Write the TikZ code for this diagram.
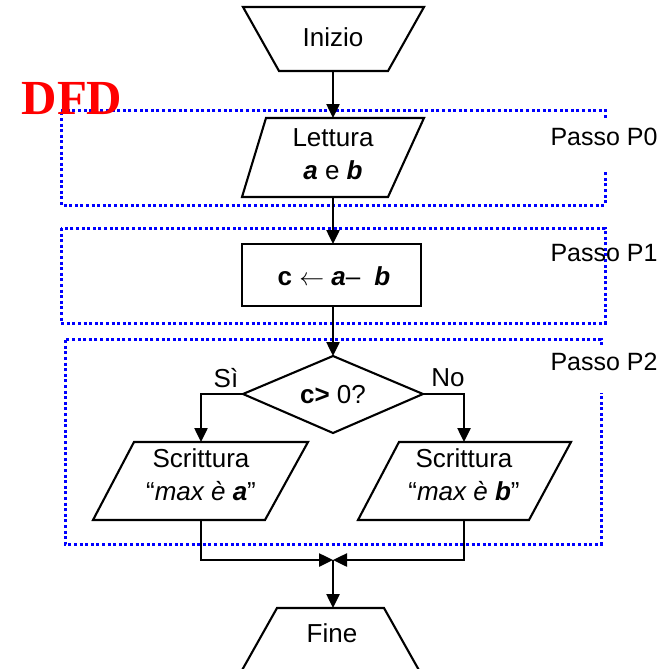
\documentclass[tikz,border=0pt]{standalone}
\usepackage{fontspec}
\setmainfont{Liberation Sans}
\newfontfamily\dfdfont{Liberation Serif}
\usetikzlibrary{arrows.meta}
\definecolor{boxblue}{RGB}{0,0,255}
\definecolor{dfdred}{RGB}{255,0,0}
\tikzset{
  shapeline/.style={draw=black, line width=2.1pt, line join=miter},
  arr/.style={draw=black, line width=2.5pt, -{Triangle[length=14pt,width=13pt]}},
  stepframe/.style={draw=boxblue, line width=3pt, dash pattern=on 3pt off 2.6pt},
  txt/.style={font=\fontsize{26}{33}\selectfont, align=center, inner sep=0pt},
  passo/.style={font=\fontsize{25}{28}\selectfont, inner sep=0pt},
}
\begin{document}
\begin{tikzpicture}[x=1pt,y=-1pt]
\useasboundingbox (0,0) rectangle (669,669);

% step frames
\draw[stepframe] (605,118) -- (605,110) -- (61,110) -- (61,205) -- (605,205) -- (605,170);
\draw[stepframe] (61,228) rectangle (605,323);
\draw[stepframe] (601,345) -- (601,339) -- (65,339) -- (65,544) -- (601,544) -- (601,393);

% anchor coordinates
\coordinate (inizioB) at (333,71);
\coordinate (letturaT) at (333,118);
\coordinate (letturaB) at (333,197);
\coordinate (calcT) at (333,244);
\coordinate (calcB) at (333,306);
\coordinate (diaT) at (333,356);
\coordinate (diaL) at (243,394);
\coordinate (diaR) at (423,394);
\coordinate (scrAT) at (201,442);
\coordinate (scrAB) at (201,520);
\coordinate (scrBT) at (464,442);
\coordinate (scrBB) at (464,520);
\coordinate (join) at (333,560);
\coordinate (fineT) at (333,608);

% shapes
\draw[shapeline] (243,7) -- (424,7) -- (388,71) -- (279,71) -- cycle;
\draw[shapeline] (266,118) -- (424,118) -- (388,197) -- (242,197) -- cycle;
\draw[shapeline] (242,244) rectangle (421,306);
\draw[shapeline] (diaT) -- (diaR) -- (333,433) -- (diaL) -- cycle;
\draw[shapeline] (134,442) -- (308,442) -- (265,520) -- (93,520) -- cycle;
\draw[shapeline] (399,442) -- (571,442) -- (529,520) -- (358,520) -- cycle;
\draw[shapeline] (277,608) -- (384,608) -- (420,672) -- (241,672) -- cycle;

% texts
\node[txt] (inizio) at (333,37) {Inizio};
\node[txt] (lettura) at (333,154) {Lettura\\{\bfseries\itshape a} e {\bfseries\itshape b}};
\node[txt] (calc) at (334,276) {{\bfseries c} $\leftarrow$ {\bfseries\itshape a}–\hspace{14pt}{\bfseries\itshape b}};
\node[txt] (cond) at (333,395) {{\bfseries c>} 0?};
\node[txt] (scrA) at (201,475) {Scrittura\\“{\itshape max è }{\bfseries\itshape a}”};
\node[txt] (scrB) at (464,475) {Scrittura\\“{\itshape max è }{\bfseries\itshape b}”};
\node[txt] (fine) at (332,633) {Fine};
\node[txt] (si) at (226,378) {Sì};
\node[txt] (no) at (448,378) {No};
\node[passo] (p0) at (604,137) {Passo P0};
\node[passo] (p1) at (604,253) {Passo P1};
\node[passo] (p2) at (604,362) {Passo P2};
\node[inner sep=0pt, text=dfdred, font=\dfdfont\bfseries\fontsize{49}{49}\selectfont] (dfd) at (72,99) {DFD};

% connectors
\draw[arr] (inizioB) -- (letturaT);
\draw[arr] (letturaB) -- (calcT);
\draw[arr] (calcB) -- (diaT);
\draw[arr] (diaL) -| (scrAT);
\draw[arr] (diaR) -| (scrBT);
\draw[arr] (scrAB) |- (join);
\draw[arr] (scrBB) |- (join);
\draw[arr] (join) -- (fineT);
\end{tikzpicture}
\end{document}
